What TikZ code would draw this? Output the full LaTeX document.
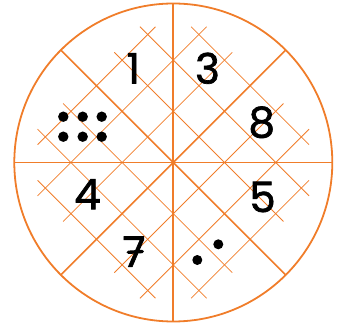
\documentclass[tikz,border=0pt]{standalone}
\usepackage{fontspec}
\newfontfamily\digitfont[FakeBold=1.6]{Poppins}
\definecolor{kreis}{RGB}{240,125,42}

\begin{document}
\begin{tikzpicture}[x=1pt, y=1pt,
    every node/.style={font=\digitfont\fontsize{42}{42}\selectfont, inner sep=0pt},
    axis/.style={draw=kreis, line width=1.8pt},
    diag/.style={draw=kreis, line width=1.5pt},
    hatch/.style={draw=kreis, line width=0.8pt},
    dot/.style={fill=black}
]
\useasboundingbox (-173.3,-163.5) rectangle (163.7,162.5);

% Gitter (schraeg)
\begin{scope}[rotate=45]
\foreach \i/\n in {1/3, 2/3, 3/2} {
  \foreach \sg in {1,-1} {
    \draw[hatch] (\sg*\i*36.2, -\n*36.2-11) -- (\sg*\i*36.2, \n*36.2+11);
    \draw[hatch] (-\n*36.2-11, \sg*\i*36.2) -- (\n*36.2+11, \sg*\i*36.2);
  }
}
\end{scope}

% Kreis und Durchmesser
\draw[axis] (0,0) circle (159);
\draw[axis] (0,159) -- (0,-159);
\draw[axis] (-159,0) -- (159,0);
\draw[diag] (135:159) -- (-45:159);
\draw[diag] (45:159) -- (225:159);

% Zahlen
\node (eins)   at (-40,94.2)   {1};
\node (drei)   at (34.2,94.2)  {3};
\node (acht)   at (88.4,40.2)  {8};
\node (vier)   at (-85.8,-31.7) {4};
\node (fuenf)  at (89.2,-34.5) {5};
\node (sieben) at (-39.3,-89.2) {7};
\draw[line width=3.4pt, line cap=round] (-45,-89.8) -- (-31,-89);

% Punkte
\foreach \x in {-110,-90.6,-71.6} {
  \fill[dot] (\x,45.8) circle (5.2);
  \fill[dot] (\x,25.8) circle (5.2);
}
\fill[dot] (24,-97.5) circle (5);
\fill[dot] (45,-81.8) circle (5);

\end{tikzpicture}
\end{document}
